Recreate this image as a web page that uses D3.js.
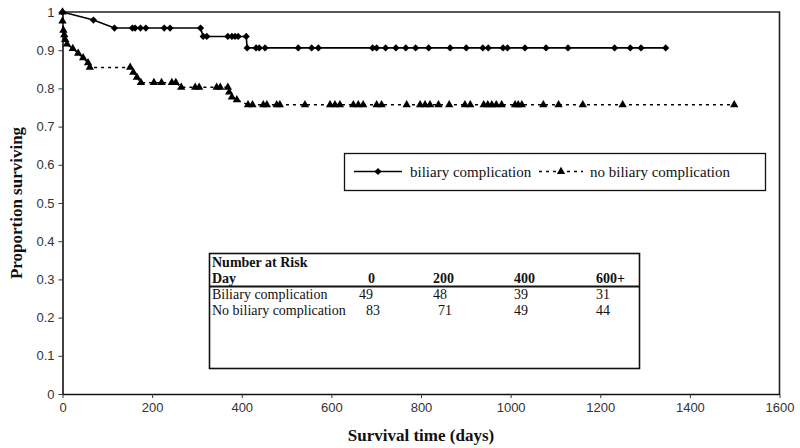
<!DOCTYPE html>
<html>
<head>
<meta charset="utf-8">
<script src="https://cdn.jsdelivr.net/npm/d3@7"></script>
<style>
  html, body { margin: 0; padding: 0; background: #fff; }
  svg { display: block; }
</style>
</head>
<body>
<svg id="chart" width="800" height="448"></svg>
<script>
// ---- data ----
const biliaryDays = [0, 69, 116, 156, 162, 174, 186, 227, 240, 308, 314, 322, 369, 378, 385, 392, 410, 412, 432, 439, 452, 526, 556, 571, 692, 701, 721, 744, 766, 788, 817, 865, 901, 938, 950, 983, 993, 1032, 1079, 1128, 1232, 1267, 1291, 1346];
const biliarySurv = [1, 0.979, 0.958, 0.958, 0.958, 0.958, 0.958, 0.958, 0.958, 0.958, 0.936, 0.936, 0.936, 0.936, 0.936, 0.936, 0.936, 0.906, 0.906, 0.906, 0.906, 0.906, 0.906, 0.906, 0.906, 0.906, 0.906, 0.906, 0.906, 0.906, 0.906, 0.906, 0.906, 0.906, 0.906, 0.906, 0.906, 0.906, 0.906, 0.906, 0.906, 0.906, 0.906, 0.906];

const noBiliaryDays = [0, 0, 2, 4, 6, 10, 23, 35, 46, 57, 61, 151, 158, 166, 175, 204, 221, 244, 253, 265, 296, 305, 344, 352, 369, 372, 378, 389, 414, 424, 448, 456, 478, 485, 541, 597, 608, 619, 649, 660, 671, 701, 712, 768, 798, 809, 820, 839, 863, 898, 910, 940, 949, 958, 968, 980, 1010, 1017, 1025, 1073, 1107, 1161, 1250, 1499];
const noBiliarySurv = [1, 0.976, 0.952, 0.94, 0.928, 0.916, 0.904, 0.892, 0.88, 0.867, 0.855, 0.855, 0.842, 0.829, 0.815, 0.815, 0.815, 0.815, 0.815, 0.803, 0.803, 0.803, 0.803, 0.803, 0.803, 0.79, 0.777, 0.77, 0.757, 0.757, 0.757, 0.757, 0.757, 0.757, 0.757, 0.757, 0.757, 0.757, 0.757, 0.757, 0.757, 0.757, 0.757, 0.757, 0.757, 0.757, 0.757, 0.757, 0.757, 0.757, 0.757, 0.757, 0.757, 0.757, 0.757, 0.757, 0.757, 0.757, 0.757, 0.757, 0.757, 0.757, 0.757, 0.757];

const xTicks = [0, 200, 400, 600, 800, 1000, 1200, 1400, 1600];
const yTicks = [0, 0.1, 0.2, 0.3, 0.4, 0.5, 0.6, 0.7, 0.8, 0.9, 1];
const yTickLabels = ["0", "0.1", "0.2", "0.3", "0.4", "0.5", "0.6", "0.7", "0.8", "0.9", "1"];

const seriesNames = ["biliary complication", "no biliary complication"];

const riskTitle = "Number at Risk";
const riskDayLabel = "Day";
const riskDays = ["0", "200", "400", "600+"];
const riskGroups = ["Biliary complication", "No biliary complication"];
const riskBiliary = [49, 48, 39, 31];
const riskNoBiliary = [83, 71, 49, 44];

const xTitle = "Survival time (days)";
const yTitle = "Proportion surviving";

// ---- layout ----
const svg = d3.select("#chart");
const serif = "'Liberation Serif', 'Times New Roman', serif";
const sans = "'Liberation Sans', Arial, sans-serif";

const x = d3.scaleLinear().domain([0, 1600]).range([62.5, 779.5]);
const y = d3.scaleLinear().domain([0, 1]).range([394, 12]);

// plot frame (top & right)
svg.append("path")
  .attr("d", `M${x(0)},${y(1)}H${x(1600)}V${y(0)}`)
  .attr("fill", "none").attr("stroke", "#222").attr("stroke-width", 1.6);

// axes
const yAxis = d3.axisLeft(y).tickValues(yTicks)
  .tickFormat((d, i) => yTickLabels[i]).tickSize(4).tickSizeOuter(0).tickPadding(4);
const gy = svg.append("g").attr("transform", `translate(${x(0)},0)`).call(yAxis);
const xAxis = d3.axisBottom(x).tickValues(xTicks).tickFormat(d => String(d))
  .tickSize(4).tickSizeOuter(0).tickPadding(5);
const gx = svg.append("g").attr("transform", `translate(0,${y(0)})`).call(xAxis);

[gx, gy].forEach(g => {
  g.select(".domain").attr("stroke", "#111").attr("stroke-width", 1.6);
  g.selectAll(".tick line").attr("stroke", "#333").attr("stroke-width", 1);
  g.selectAll(".tick text").attr("font-family", sans).attr("font-size", 13).attr("fill", "#333");
});

// axis titles
svg.append("text").attr("x", (x(0) + x(1600)) / 2).attr("y", 441)
  .attr("text-anchor", "middle").attr("font-family", serif).attr("font-weight", "bold")
  .attr("font-size", 17).attr("fill", "#111").text(xTitle);
svg.append("text")
  .attr("transform", `translate(22,${(y(0) + y(1)) / 2}) rotate(-90)`)
  .attr("text-anchor", "middle").attr("font-family", serif).attr("font-weight", "bold")
  .attr("font-size", 17).attr("fill", "#111").text(yTitle);

// series
const line = d3.line().x(d => x(d[0])).y(d => y(d[1]));
const noBil = noBiliaryDays.map((d, i) => [d, noBiliarySurv[i]]);
const bil = biliaryDays.map((d, i) => [d, biliarySurv[i]]);

const tri = d3.symbol().type(d3.symbolTriangle).size(30);
const dia = d3.symbol().type(d3.symbolSquare).size(26);

svg.append("path").datum(noBil).attr("d", line).attr("fill", "none")
  .attr("stroke", "#000").attr("stroke-width", 1.5).attr("stroke-dasharray", "3,4");
svg.append("g").selectAll("path").data(noBil).join("path")
  .attr("d", tri).attr("transform", d => `translate(${x(d[0])},${y(d[1])})`).attr("fill", "#000");

svg.append("path").datum(bil).attr("d", line).attr("fill", "none")
  .attr("stroke", "#000").attr("stroke-width", 1.6);
svg.append("g").selectAll("path").data(bil).join("path")
  .attr("d", dia).attr("transform", d => `translate(${x(d[0])},${y(d[1])}) rotate(45)`).attr("fill", "#000");

// legend
const lg = svg.append("g");
lg.append("rect").attr("x", 344.5).attr("y", 153.5).attr("width", 421).attr("height", 37)
  .attr("fill", "#fff").attr("stroke", "#111").attr("stroke-width", 1.3);
const ly = 171.5;
lg.append("line").attr("x1", 354).attr("x2", 402).attr("y1", ly).attr("y2", ly)
  .attr("stroke", "#000").attr("stroke-width", 1.6);
lg.append("path").attr("d", dia).attr("transform", `translate(378,${ly}) rotate(45)`);
lg.append("text").attr("x", 410).attr("y", ly + 5).attr("font-family", serif)
  .attr("font-size", 15).attr("fill", "#111").text(seriesNames[0]);
lg.append("line").attr("x1", 539).attr("x2", 583).attr("y1", ly).attr("y2", ly)
  .attr("stroke", "#000").attr("stroke-width", 1.5).attr("stroke-dasharray", "3,4");
lg.append("path").attr("d", tri).attr("transform", `translate(561,${ly})`);
lg.append("text").attr("x", 590).attr("y", ly + 5).attr("font-family", serif)
  .attr("font-size", 15).attr("fill", "#111").text(seriesNames[1]);

// number at risk table
const tb = svg.append("g");
tb.append("rect").attr("x", 209.5).attr("y", 253.5).attr("width", 430).attr("height", 115)
  .attr("fill", "#fff").attr("stroke", "#111").attr("stroke-width", 1.6);
tb.append("line").attr("x1", 209.5).attr("x2", 639.5).attr("y1", 286.5).attr("y2", 286.5)
  .attr("stroke", "#111").attr("stroke-width", 2);
const tText = (tx, ty, s, bold) => tb.append("text").attr("x", tx).attr("y", ty)
  .attr("font-family", serif).attr("font-size", 14).attr("fill", "#111")
  .attr("font-weight", bold ? "bold" : "normal").text(s);
tText(212, 267, riskTitle, true);
tText(212, 283, riskDayLabel, true);
const hdrX = [368, 433, 514, 596];
const r1X = [359, 433, 514, 596];
const r2X = [366, 438, 514, 596];
riskDays.forEach((d, i) => tText(hdrX[i], 283, d, true));
tText(212, 299, riskGroups[0], false);
tText(212, 315, riskGroups[1], false);
riskBiliary.forEach((v, i) => tText(r1X[i], 299, String(v), false));
riskNoBiliary.forEach((v, i) => tText(r2X[i], 315, String(v), false));
</script>
</body>
</html>
